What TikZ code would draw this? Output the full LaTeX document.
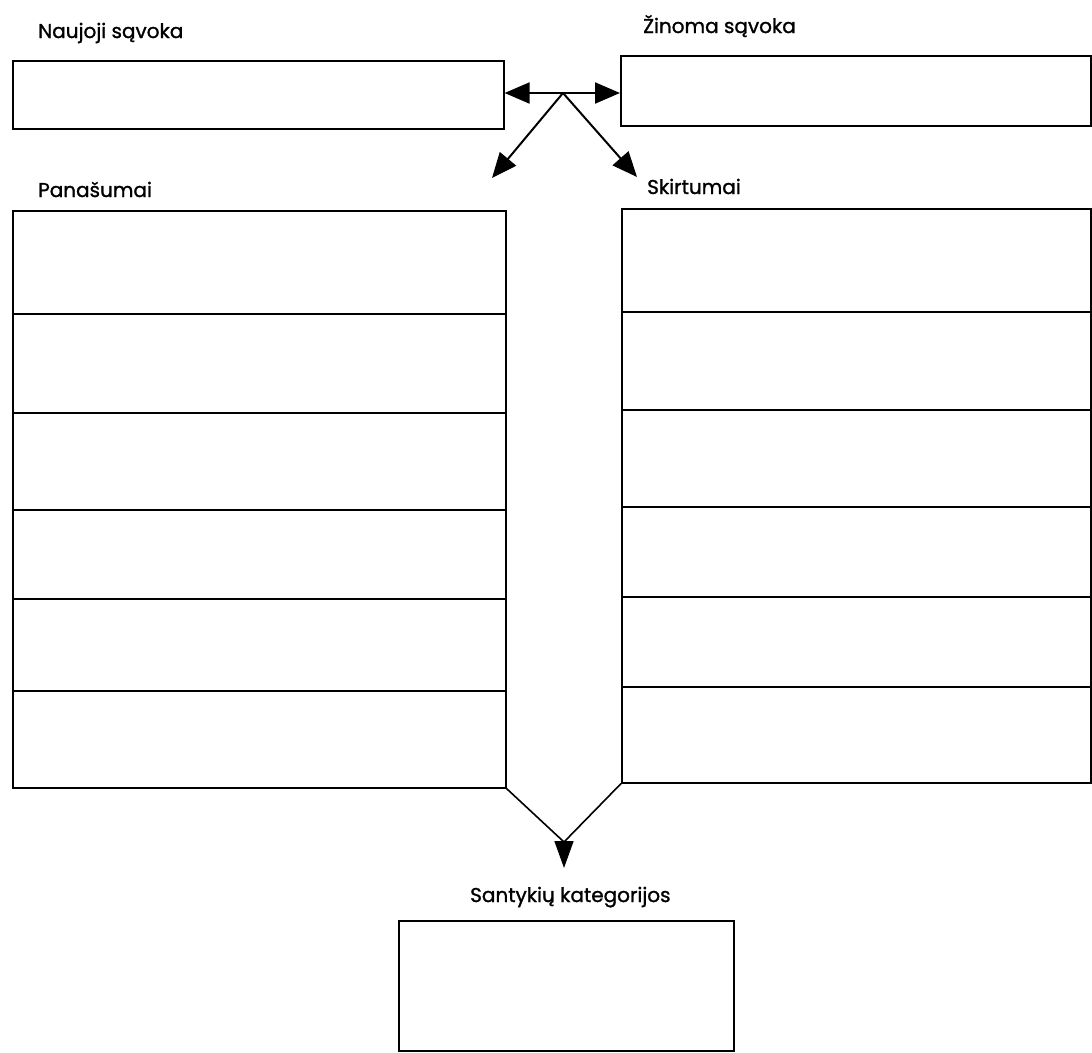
\documentclass[tikz,border=0pt]{standalone}
\usepackage{fontspec}
\setmainfont{Poppins}[UprightFeatures={FakeBold=1.2}]
\usetikzlibrary{arrows.meta}

\begin{document}
\begin{tikzpicture}[x=1pt,y=-1pt,
    box/.style={draw, line width=1.6pt, inner sep=0pt, anchor=north west},
    caption/.style={anchor=base west, inner sep=0pt, font=\fontsize{20}{24}\selectfont},
    arr/.style={line width=2pt, -{Triangle[length=25pt,width=21pt]}}]

    \useasboundingbox (0,0) rectangle (1092,1052);

    % Concept boxes
    \node[caption] (lblnaujoji) at (38,38) {Naujoji sąvoka};
    \node[caption] (lblzinoma) at (643,33) {Žinoma sąvoka};
    \node[box, minimum width=491pt, minimum height=68pt] (naujoji) at (12,60) {};
    \node[box, minimum width=470pt, minimum height=70pt] (zinoma) at (620,55) {};

    % Arrows from the middle
    \coordinate (hub) at (563,93);
    \coordinate (panarrow) at (492,178);
    \coordinate (skirarrow) at (637,177);
    \draw[arr] (hub) -- (hub -| naujoji.east);
    \draw[arr] (hub) -- (hub -| zinoma.west);
    \draw[arr] (hub) -- (panarrow);
    \draw[arr] (hub) -- (skirarrow);

    % Similarities and differences
    \node[caption] (lblpan) at (38,197) {Panašumai};
    \node[caption] (lblskir) at (647,194) {Skirtumai};
    \foreach \i/\t/\b in {1/210/313, 2/313/412, 3/412/509, 4/509/598, 5/598/690, 6/690/787} {
        \node[box, minimum width=493pt, minimum height={(\b-\t)*1pt}] (pan\i) at (12,\t) {};
    }
    \foreach \i/\t/\b in {1/208/311, 2/311/409, 3/409/506, 4/506/596, 5/596/686, 6/686/782} {
        \node[box, minimum width=469pt, minimum height={(\b-\t)*1pt}] (skir\i) at (621,\t) {};
    }

    % Funnel to the categories
    \coordinate (vtip) at (564,842);
    \draw[line width=1.6pt] (pan6.south east) -- (vtip) -- (skir6.south west);
    \draw[line width=1.6pt, -{Triangle[length=27pt,width=19pt]}] (vtip) -- (564,868);

    % Categories
    \node[caption] (lblsantykiai) at (470,902) {Santykių kategorijos};
    \node[box, minimum width=335pt, minimum height=130pt] (santykiai) at (398,920) {};

\end{tikzpicture}
\end{document}
